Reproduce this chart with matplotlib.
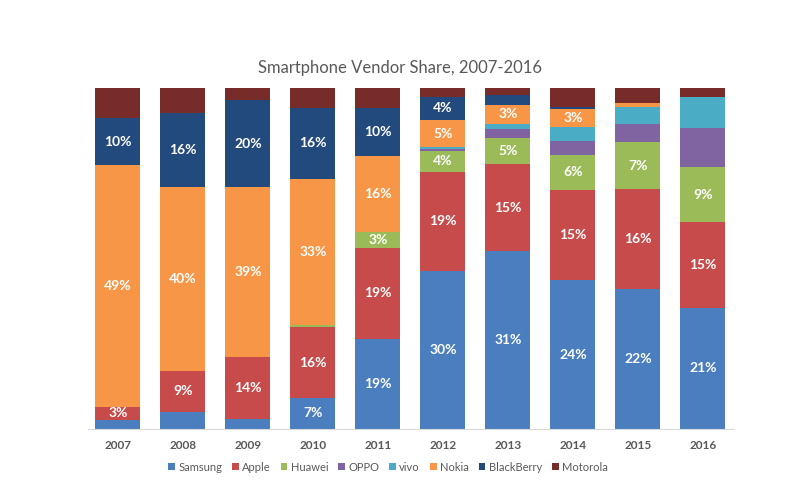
import numpy as np
import matplotlib
matplotlib.use("Agg")
import matplotlib.pyplot as plt
from matplotlib.patches import Patch

# market share (%); bars are stacked as share of the shown vendors
years = [2007, 2008, 2009, 2010, 2011, 2012, 2013, 2014, 2015, 2016]
vendors = ["Samsung", "Apple", "Huawei", "OPPO", "vivo", "Nokia", "BlackBerry", "Motorola"]

samsung    = [1.8, 3.7, 2.4, 7.0, 19.0, 30.0, 31.0, 24.4, 21.7, 20.7]
apple      = [2.7, 9.0, 14.0, 16.0, 19.0, 19.0, 15.2, 14.8, 15.6, 14.6]
huawei     = [0.0, 0.0, 0.0, 0.5, 3.4, 4.0, 4.6, 5.7, 7.3, 9.4]
oppo       = [0.0, 0.0, 0.0, 0.0, 0.0, 0.3, 1.6, 2.3, 2.8, 6.7]
vivo       = [0.0, 0.0, 0.0, 0.0, 0.0, 0.3, 0.9, 2.3, 2.7, 5.3]
nokia      = [49.0, 40.0, 39.0, 33.0, 16.0, 5.2, 3.2, 3.0, 0.6, 0.0]
blackberry = [9.6, 16.0, 20.0, 16.0, 10.0, 4.4, 1.8, 0.3, 0.0, 0.0]
motorola   = [6.1, 5.5, 2.8, 4.5, 4.3, 1.7, 1.2, 3.1, 2.3, 1.5]

# which years carry a value label, per vendor
label_years = {
    "Samsung": [2010, 2011, 2012, 2013, 2014, 2015, 2016],
    "Apple": years,
    "Huawei": [2011, 2012, 2013, 2014, 2015, 2016],
    "Nokia": [2007, 2008, 2009, 2010, 2011, 2012, 2013, 2014],
    "BlackBerry": [2007, 2008, 2009, 2010, 2011, 2012],
}

colors = ["#4a7ebf", "#c64b4a", "#9bbb59", "#8064a2", "#4bacc6", "#f79646", "#234a7c", "#772c2a"]

series = [samsung, apple, huawei, oppo, vivo, nokia, blackberry, motorola]
data = np.array(series)
pct = data / data.sum(axis=0) * 100

plt.rcParams["font.family"] = ["Lato", "DejaVu Sans"]

fig = plt.figure(figsize=(8, 4.98), dpi=100)
ax = fig.add_axes([0.11, 0.1386, 0.806, 0.6847])

x = np.arange(len(years))
bottom = np.zeros(len(years))
for name, raw, vals, c in zip(vendors, data, pct, colors):
    ax.bar(x, vals, 0.69, bottom=bottom, color=c, linewidth=0)
    for i, yr in enumerate(years):
        if yr in label_years.get(name, []):
            ax.text(x[i], bottom[i] + vals[i] / 2, "{:.0f}%".format(raw[i]),
                    ha="center", va="center", color="white",
                    fontsize=10, fontweight="bold")
    bottom += vals

ax.set_xlim(-0.46, 9.46)
ax.set_ylim(0, 100)
ax.set_xticks(x)
ax.set_xticklabels([str(y) for y in years], fontsize=8.5, fontweight="bold", color="#595959")
ax.tick_params(axis="x", length=0, pad=8)
ax.set_yticks([])
for s in ["top", "right", "left"]:
    ax.spines[s].set_visible(False)
ax.spines["bottom"].set_color("#d9d9d9")

fig.text(0.5, 0.863, "Smartphone Vendor Share, 2007-2016", ha="center", va="center",
         fontsize=12, color="#595959")

handles = [Patch(facecolor=c, edgecolor="none") for c in colors]
fig.legend(handles, vendors, loc="center", bbox_to_anchor=(0.485, 0.062), ncol=8,
           frameon=False, fontsize=8, handlelength=0.6, handleheight=0.6,
           handletextpad=0.3, columnspacing=0.9, labelcolor="#595959")

plt.savefig("out.png", dpi=100)
